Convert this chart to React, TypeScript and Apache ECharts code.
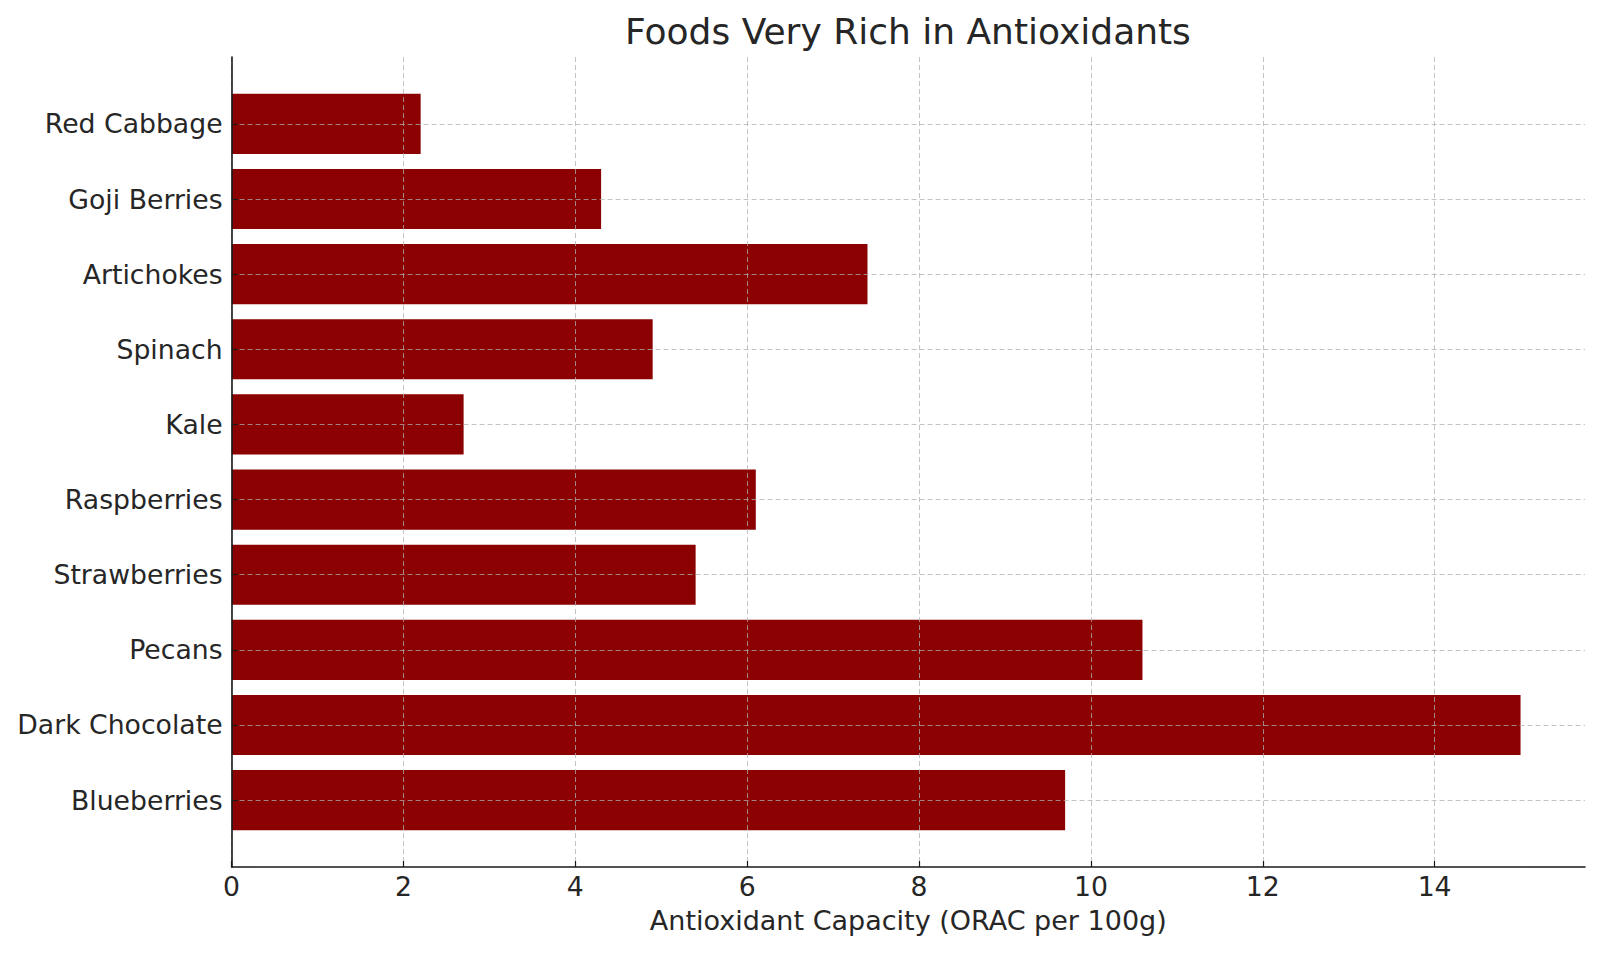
import { useEffect, useRef } from 'react';
import * as echarts from 'echarts';

const categories = [
  'Blueberries',
  'Dark Chocolate',
  'Pecans',
  'Strawberries',
  'Raspberries',
  'Kale',
  'Spinach',
  'Artichokes',
  'Goji Berries',
  'Red Cabbage',
];
const values = [9.7, 15.0, 10.6, 5.4, 6.1, 2.7, 4.9, 7.4, 4.3, 2.2];
const xTicks = [0, 2, 4, 6, 8, 10, 12, 14];
const yTicks = categories.map((_, i) => i);

const FONT = 'DejaVu Sans';
const TEXT = '#262626';
const GRID_LINE = { color: 'rgba(176,176,176,0.75)', width: 1, type: [5, 3] as number[] };

export default function App() {
  const ref = useRef<HTMLDivElement>(null);
  useEffect(() => {
    if (!ref.current) return;
    const chart = echarts.init(ref.current, null, { renderer: 'svg' });
    chart.setOption({
      animation: false,
      backgroundColor: '#ffffff',
      textStyle: { fontFamily: FONT },
      grid: { left: 231.6, right: 15, top: 57, bottom: 87, containLabel: false },
      graphic: [
        {
          type: 'text',
          x: 908,
          y: 31.5,
          style: {
            text: 'Foods Very Rich in Antioxidants',
            fontFamily: FONT,
            fontSize: 36,
            fill: TEXT,
            align: 'center',
            verticalAlign: 'middle',
          },
        },
      ],
      xAxis: {
        type: 'value',
        min: 0,
        max: 15.75,
        z: 5,
        name: 'Antioxidant Capacity (ORAC per 100g)',
        nameLocation: 'middle',
        nameGap: 40,
        nameTextStyle: { fontFamily: FONT, fontSize: 27, color: TEXT },
        axisLine: { show: true, onZero: false, lineStyle: { color: '#1a1a1a', width: 1.6 } },
        axisTick: { show: true, inside: true, length: 6, customValues: xTicks, lineStyle: { color: '#1a1a1a', width: 1.2 } },
        axisLabel: { customValues: xTicks, fontFamily: FONT, fontSize: 26.7, color: TEXT, margin: 6 },
        splitLine: { show: true, lineStyle: GRID_LINE },
      },
      yAxis: {
        type: 'value',
        min: -0.89,
        max: 9.89,
        z: 5,
        axisLine: { show: true, onZero: false, lineStyle: { color: '#1a1a1a', width: 1.6 } },
        axisTick: { show: true, inside: true, length: 6, customValues: yTicks, lineStyle: { color: '#1a1a1a', width: 1.2 } },
        axisLabel: {
          customValues: yTicks,
          fontFamily: FONT,
          fontSize: 26.7,
          color: TEXT,
          margin: 9,
          formatter: (v: number) => categories[Math.round(v)] ?? '',
        },
        splitLine: { show: true, lineStyle: GRID_LINE },
      },
      series: [
        {
          type: 'custom',
          coordinateSystem: 'cartesian2d',
          z: 1,
          data: values.map((v, i) => [v, i]),
          encode: { x: 0, y: 1 },
          renderItem: (_params: any, api: any) => {
            const v = api.value(0);
            const i = api.value(1);
            const p0 = api.coord([0, i]);
            const p1 = api.coord([v, i]);
            const h = api.size([0, 0.8])[1];
            return {
              type: 'rect',
              shape: { x: p0[0], y: p0[1] - h / 2, width: p1[0] - p0[0], height: h },
              style: { fill: '#8b0000' },
            };
          },
        },
      ],
    });
    return () => chart.dispose();
  }, []);
  return (
    <div
      ref={ref}
      style={{ position: 'fixed', left: 0, top: 0, width: 1600, height: 954 }}
    />
  );
}
